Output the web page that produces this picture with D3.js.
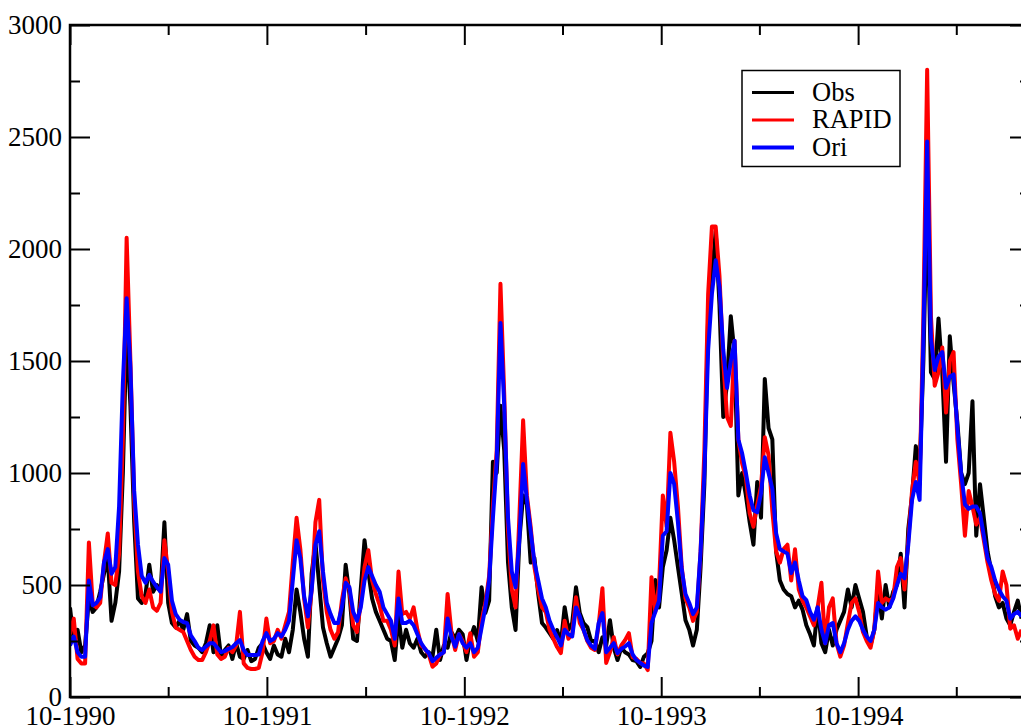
<!DOCTYPE html>
<html>
<head>
<meta charset="utf-8">
<script src="https://cdn.jsdelivr.net/npm/d3@7"></script>
<style>
  body { margin: 0; background: #fff; }
  text { font-family: "Liberation Serif", "Times New Roman", serif; }
</style>
</head>
<body>
<script>
// weekly samples starting 1 Oct 1990
var startDate = new Date(1990, 9, 1);
var stepDays = 7;

var obs = [
  400,250,300,200,230,440,380,400,470,550,
  620,340,420,560,1000,1650,1300,780,440,420,
  460,590,470,500,470,780,420,330,310,340,
  300,370,250,230,220,200,240,320,200,320,
  180,210,230,170,240,180,170,210,160,170,
  220,240,
  200,170,230,190,180,260,200,300,480,380,
  260,180,550,690,500,310,240,180,220,260,
  320,590,460,260,250,480,700,560,440,380,
  340,300,260,250,165,360,220,300,240,220,
  260,200,180,200,180,300,165,230,220,290,
  260,300,
  280,165,260,312,250,490,375,430,1050,1000,
  1300,1100,600,400,299,700,900,860,600,620,
  460,330,310,285,260,299,240,401,300,330,
  490,375,330,312,250,250,200,267,230,343,
  220,165,220,200,190,165,160,134,180,196,
  250,522,
  400,580,655,800,700,580,463,343,300,230,
  300,580,950,1700,1880,2080,1750,1250,1400,1700,
  1530,900,1000,900,780,680,960,800,1420,1200,
  1150,650,520,480,460,450,400,430,390,320,
  280,230,400,240,200,300,230,300,340,380,
  480,400,
  500,440,380,270,230,300,480,350,500,400,
  470,500,640,400,750,900,1120,1000,1500,2250,
  1450,1420,1690,1450,1050,1610,1400,1226,1000,950,
  1000,1320,720,950,800,650,560,450,400,420,
  350,320,380,430,350
];

var rapid = [
  280,350,170,150,150,690,420,400,420,600,
  730,510,500,640,1150,2050,1500,880,560,450,
  420,480,400,385,420,700,560,380,310,300,
  290,250,210,180,165,165,200,250,320,190,
  170,180,220,200,230,380,150,130,125,125,
  130,200,
  350,240,250,300,260,320,380,600,800,660,
  440,310,477,780,880,520,380,300,260,290,
  430,530,480,320,290,420,580,655,520,460,
  410,340,340,300,230,560,370,380,350,400,
  300,230,215,190,135,150,190,200,460,290,
  210,280,
  250,200,285,180,200,340,420,540,850,1100,
  1845,1350,750,480,400,800,1235,900,760,580,
  480,400,380,300,260,223,196,340,260,280,
  445,330,300,250,220,210,320,486,152,200,
  267,190,230,254,285,178,170,152,150,120,
  535,380,
  500,900,760,1180,1050,850,580,440,400,340,
  380,650,1100,1800,2100,2100,1880,1500,1250,1210,
  1590,1150,1043,980,820,760,860,940,1160,1080,
  830,650,600,660,680,520,660,480,430,400,
  360,320,400,510,240,400,440,240,180,230,
  330,420,
  440,380,290,250,220,300,560,420,440,430,
  440,580,620,480,700,920,1050,950,1700,2800,
  1700,1390,1450,1560,1270,1500,1540,1150,950,720,
  920,850,770,800,700,600,520,460,430,560,
  500,305,320,260,300
];

var ori = [
  230,270,200,180,180,520,410,420,445,600,
  660,550,580,850,1400,1780,1470,920,680,540,
  510,545,515,490,470,620,590,430,370,345,
  335,330,275,250,220,210,225,240,240,220,
  200,205,215,223,240,254,210,187,187,187,
  190,250,
  285,250,260,285,270,300,340,520,700,620,
  450,360,477,680,740,560,420,370,330,330,
  400,510,490,380,340,400,520,580,540,500,
  470,400,370,340,260,440,330,330,340,320,
  280,240,215,196,160,175,190,200,350,270,
  225,280,
  240,220,240,200,220,310,400,520,800,1050,
  1670,1300,800,560,490,700,1040,880,740,600,
  520,440,400,340,300,267,230,300,280,270,
  400,360,300,254,230,215,330,375,200,220,
  240,196,215,225,240,190,165,152,140,134,
  330,380,
  430,720,740,1000,950,780,570,460,420,370,
  400,650,1000,1550,1800,1950,1830,1550,1380,1500,
  1590,1150,1088,1000,900,834,825,909,1070,1000,
  930,731,660,650,640,553,600,520,450,432,
  380,345,400,300,240,320,330,240,200,240,
  300,340,
  360,340,300,270,250,300,420,400,390,400,
  440,500,550,530,680,880,960,880,1600,2480,
  1600,1460,1520,1540,1380,1430,1440,1200,1000,860,
  840,850,850,820,720,620,580,520,480,450,
  430,350,370,380,360
];

var yMajor = [0, 500, 1000, 1500, 2000, 2500, 3000];
var yMinor = [250, 750, 1250, 1750, 2250, 2750];
var xMajor = ["10-1990", "10-1991", "10-1992", "10-1993", "10-1994"];
var xMinor = ["04-1991", "04-1992", "04-1993", "04-1994", "04-1995"];
var seriesNames = ["Obs", "RAPID", "Ori"];
var seriesColors = ["#000000", "#ff0000", "#0000ff"];

var margin = {
  top: 25,
  right: 0,
  bottom: 29,
  left: 70 },

  width = 960,
  height = 672;

var parseMY = d3.timeParse("%m-%Y");
var fmt = d3.timeFormat("%m-%Y");

var x = d3.scaleTime()
  .domain([startDate, new Date(1995, 9, 1)])
  .range([0, 5 * 197]);

var y = d3.scaleLinear()
  .domain([0, 3000])
  .range([height, 0]);

var svg = d3.select("body").append("svg")
  .attr("width", 1021)
  .attr("height", 726)
  .append("g")
  .attr("transform", "translate(" + margin.left + "," + margin.top + ")");

svg.append("defs").append("clipPath")
  .attr("id", "clip")
  .append("rect")
  .attr("width", width)
  .attr("height", height);

function dateAt(i) {
  return d3.timeDay.offset(startDate, i * stepDays);
}

var line = d3.line()
  .x(function(d, i) { return x(dateAt(i)); })
  .y(function(d) { return y(d); });

var series = [obs, rapid, ori];
series.forEach(function(s, k) {
  svg.append("path")
    .datum(s)
    .attr("clip-path", "url(#clip)")
    .attr("fill", "none")
    .attr("stroke", seriesColors[k])
    .attr("stroke-width", 4)
    .attr("stroke-linejoin", "round")
    .attr("d", line);
});

// axes: ticks point inward on all four sides
function styleAxis(g) {
  g.select(".domain").remove();
  g.selectAll(".tick line").attr("stroke", "#000").attr("stroke-width", 2);
  g.selectAll(".tick text")
    .attr("fill", "#000")
    .style("font-family", "'Liberation Serif', serif")
    .style("font-size", "27px");
}

svg.append("g")
  .call(d3.axisLeft(y).tickValues(yMajor).tickSizeInner(-20).tickSizeOuter(0).tickPadding(8).tickFormat(d3.format("d")))
  .call(styleAxis);
svg.append("g")
  .call(d3.axisLeft(y).tickValues(yMinor).tickSizeInner(-10).tickSizeOuter(0).tickFormat(""))
  .call(styleAxis);
svg.append("g")
  .attr("transform", "translate(" + width + ",0)")
  .call(d3.axisRight(y).tickValues(yMajor).tickSizeInner(-20).tickSizeOuter(0).tickFormat(""))
  .call(styleAxis);
svg.append("g")
  .attr("transform", "translate(" + width + ",0)")
  .call(d3.axisRight(y).tickValues(yMinor).tickSizeInner(-10).tickSizeOuter(0).tickFormat(""))
  .call(styleAxis);

svg.append("g")
  .attr("transform", "translate(0," + height + ")")
  .call(d3.axisBottom(x).tickValues(xMajor.map(parseMY)).tickSizeInner(-20).tickSizeOuter(0).tickPadding(9).tickFormat(fmt))
  .call(styleAxis);
svg.append("g")
  .attr("transform", "translate(0," + height + ")")
  .call(d3.axisBottom(x).tickValues(xMinor.map(parseMY)).tickSizeInner(-10).tickSizeOuter(0).tickFormat(""))
  .call(styleAxis);
svg.append("g")
  .call(d3.axisTop(x).tickValues(xMajor.map(parseMY)).tickSizeInner(-20).tickSizeOuter(0).tickFormat(""))
  .call(styleAxis);
svg.append("g")
  .call(d3.axisTop(x).tickValues(xMinor.map(parseMY)).tickSizeInner(-10).tickSizeOuter(0).tickFormat(""))
  .call(styleAxis);

svg.append("rect")
  .attr("width", width)
  .attr("height", height)
  .attr("fill", "none")
  .attr("stroke", "#000")
  .attr("stroke-width", 2.5);

// legend
var legend = svg.append("g")
  .attr("transform", "translate(" + (742 - margin.left) + "," + (70.5 - margin.top) + ")");

legend.append("rect")
  .attr("width", 158)
  .attr("height", 96)
  .attr("fill", "#fff")
  .attr("stroke", "#000")
  .attr("stroke-width", 1.5);

seriesNames.forEach(function(name, k) {
  var ly = 22 + k * 27.5;
  legend.append("line")
    .attr("x1", 10).attr("x2", 52)
    .attr("y1", ly).attr("y2", ly)
    .attr("stroke", seriesColors[k])
    .attr("stroke-width", k == 2 ? 4 : 3);
  legend.append("text")
    .attr("x", 70)
    .attr("y", ly + 8)
    .attr("fill", "#000")
    .style("font-size", "26.5px")
    .text(name);
});
</script>
</body>
</html>
